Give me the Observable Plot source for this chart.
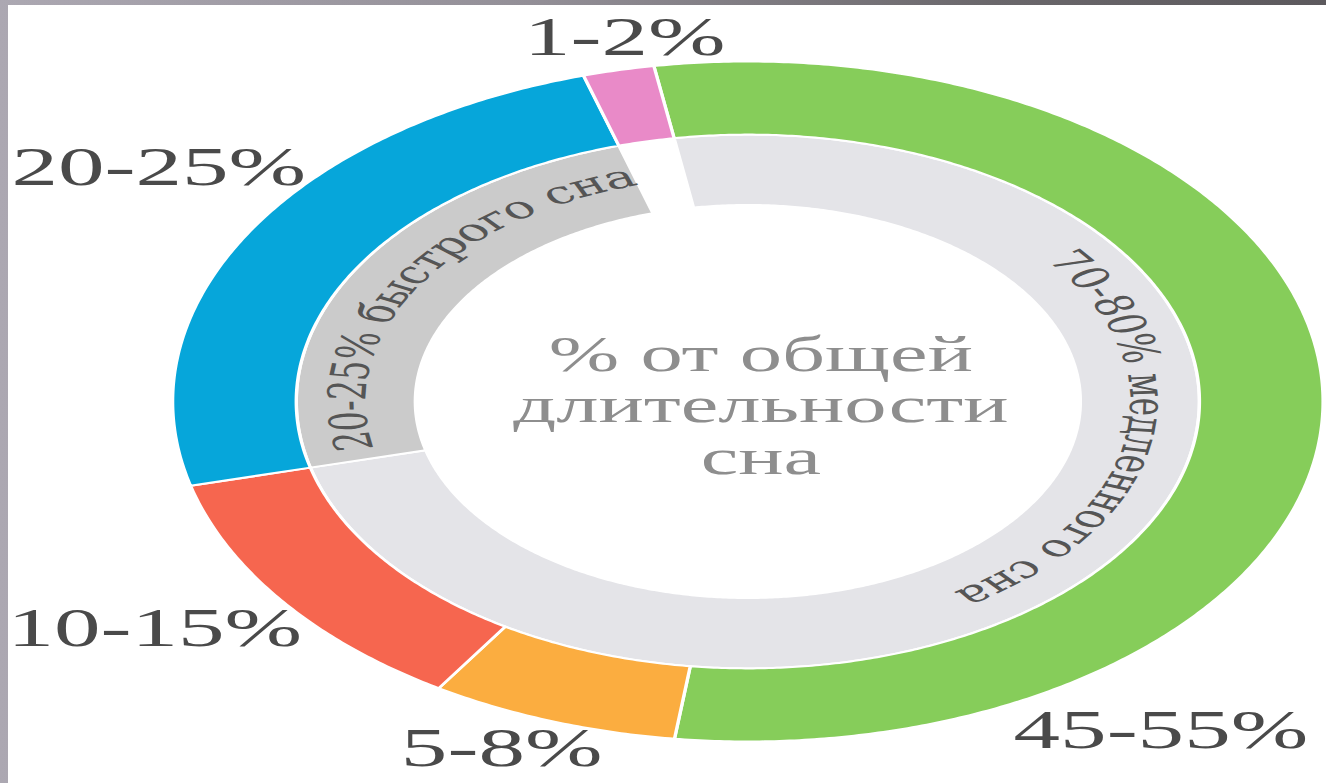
<!DOCTYPE html>
<html><head><meta charset="utf-8">
<script src="https://cdn.jsdelivr.net/npm/d3@7"></script>
<script src="https://cdn.jsdelivr.net/npm/@observablehq/plot@0.6"></script>
<style>
html,body{margin:0;padding:0;}
body{width:1326px;height:783px;overflow:hidden;position:relative;
  background:linear-gradient(90deg,#aca8b2 0%,#938f97 40%,#6a676b 75%,#5c595d 100%);}
#chart{position:absolute;left:8px;top:5px;width:1318px;height:778px;background:#fff;}
</style></head><body><div id="chart"></div>
<script>
// ---------- data ----------
const stageLabels = ["45-55%", "5-8%", "10-15%", "20-25%", "1-2%"];
const stageShares = [54.7, 7.0, 12.0, 24.4, 2.0];          // share of the ring, %
const stageGroup  = ["nrem", "nrem", "nrem", "rem", "wake"];
const groupKeys   = ["nrem", "rem"];
const groupLabels = ["70-80% медленного сна", "20-25% быстрого сна"];
const centerLabel = "% от общей\nдлительности\nсна";

// ---------- style / layout ----------
const stageColors = ["#86cd5a", "#fbad40", "#f6664f", "#06a6da", "#e98ac8"];
const groupColors = {nrem: "#e4e4e8", rem: "#cbcbcb"};
const startAngle = -9.4;                    // degrees clockwise from 12 o'clock
const outerRing = [0.785, 1.0];
const innerRing = [0.578, 0.785];
const stageLabelPos = [[0.718,-0.968],[-0.428,-1.02],[-1.031,-0.668],[-1.024,0.688],[-0.214,1.071]];
const groupLabelAngle = {nrem: 99.4, rem: -59.3};
const serif = "'Liberation Serif', 'DejaVu Serif', serif";
const curvedFont = "'DejaVu Serif', 'Liberation Serif', serif";
const curvedSize = 31;

// geometry of the (stretched) picture
const W = 1318, H = 778;
const W0 = 779;                 // drawing width before horizontal stretch
const R = 340;
const cx0 = 739 / (W / W0), cy0 = 396;

// ---------- derived ----------
const total = d3.sum(stageShares);
let acc = startAngle;
const stages = stageLabels.map((label, i) => {
  const a0 = acc, a1 = acc + 360 * stageShares[i] / total; acc = a1;
  return {label, a0, a1, group: stageGroup[i], color: stageColors[i], i};
});
const rad = a => a * Math.PI / 180;
function ringPoints(key, a0, a1, r0, r1, color) {
  const n = Math.max(2, Math.ceil(Math.abs(a1 - a0) / 0.5));
  const pts = [];
  for (let k = 0; k <= n; k++) { const t = rad(a0 + (a1 - a0) * k / n); pts.push({key, color, x: r1 * Math.sin(t), y: r1 * Math.cos(t)}); }
  for (let k = n; k >= 0; k--) { const t = rad(a0 + (a1 - a0) * k / n); pts.push({key, color, x: r0 * Math.sin(t), y: r0 * Math.cos(t)}); }
  return pts;
}
const outerPts = stages.flatMap(s => ringPoints("s" + s.i, s.a0, s.a1, outerRing[0], outerRing[1], s.color));
const groups = groupKeys.map((g, j) => {
  const m = stages.filter(s => s.group === g);
  return {g, label: groupLabels[j], a0: d3.min(m, s => s.a0), a1: d3.max(m, s => s.a1), color: groupColors[g]};
});
const innerPts = groups.flatMap(g => ringPoints("g" + g.g, g.a0, g.a1, innerRing[0], innerRing[1], g.color));

const ctx = document.createElement("canvas").getContext("2d");
ctx.font = `${curvedSize}px ${curvedFont}`;
function arcChars(str, mid, rPoint, rCenter) {
  const chars = Array.from(str);
  const tot = ctx.measureText(str).width;
  const k = 180 / (Math.PI * rCenter * R);
  return chars.map((c, i) => {
    const pre = ctx.measureText(chars.slice(0, i).join("")).width;
    const w = ctx.measureText(c).width;
    const a = mid + (pre + w / 2 - tot / 2) * k;
    return {ch: c, x: rPoint * Math.sin(rad(a)), y: rPoint * Math.cos(rad(a)), rotate: a};
  });
}
const curved = groups.flatMap(g => arcChars(g.label, groupLabelAngle[g.g], 0.694, 0.682));
const outerLabels = stages.map((s, i) => ({text: s.label, x: stageLabelPos[i][0], y: stageLabelPos[i][1]}));

const svg = Plot.plot({
  width: W0, height: H,
  marginTop: 0, marginRight: 0, marginBottom: 0, marginLeft: 0,
  x: {domain: [-1, 1], range: [cx0 - R, cx0 + R], axis: null},
  y: {domain: [-1, 1], range: [cy0 + R, cy0 - R], axis: null},
  color: {type: "identity"},
  marks: [
    Plot.line(innerPts, {x: "x", y: "y", z: "key", fill: "color", stroke: "white", strokeWidth: 2, curve: "linear-closed"}),
    Plot.line(outerPts, {x: "x", y: "y", z: "key", fill: "color", stroke: "white", strokeWidth: 2, curve: "linear-closed"}),
    Plot.text(curved, {x: "x", y: "y", text: "ch", rotate: "rotate", fontSize: curvedSize, fontFamily: curvedFont,
      fill: "#555", textAnchor: "middle", lineAnchor: "middle"}),
    Plot.text(outerLabels, {x: "x", y: "y", text: "text", fontSize: 55, fontFamily: serif, fill: "#4a4a4a",
      textAnchor: "middle", lineAnchor: "middle"}),
    Plot.text([centerLabel], {x: () => 0, y: () => 0, text: d => d, dx: 7.7, dy: 4.5, fontSize: 50, lineHeight: 1.03,
      fontFamily: serif, fill: "#8e8e8e", textAnchor: "middle", lineAnchor: "middle"})
  ]
});
svg.setAttribute("width", W);
svg.setAttribute("height", H);
svg.setAttribute("viewBox", `0 0 ${W0} ${H}`);
svg.setAttribute("preserveAspectRatio", "none");
svg.style.width = W + "px";
svg.style.height = H + "px";
svg.style.maxWidth = "none";
svg.style.overflow = "visible";
document.getElementById("chart").appendChild(svg);
</script></body></html>
